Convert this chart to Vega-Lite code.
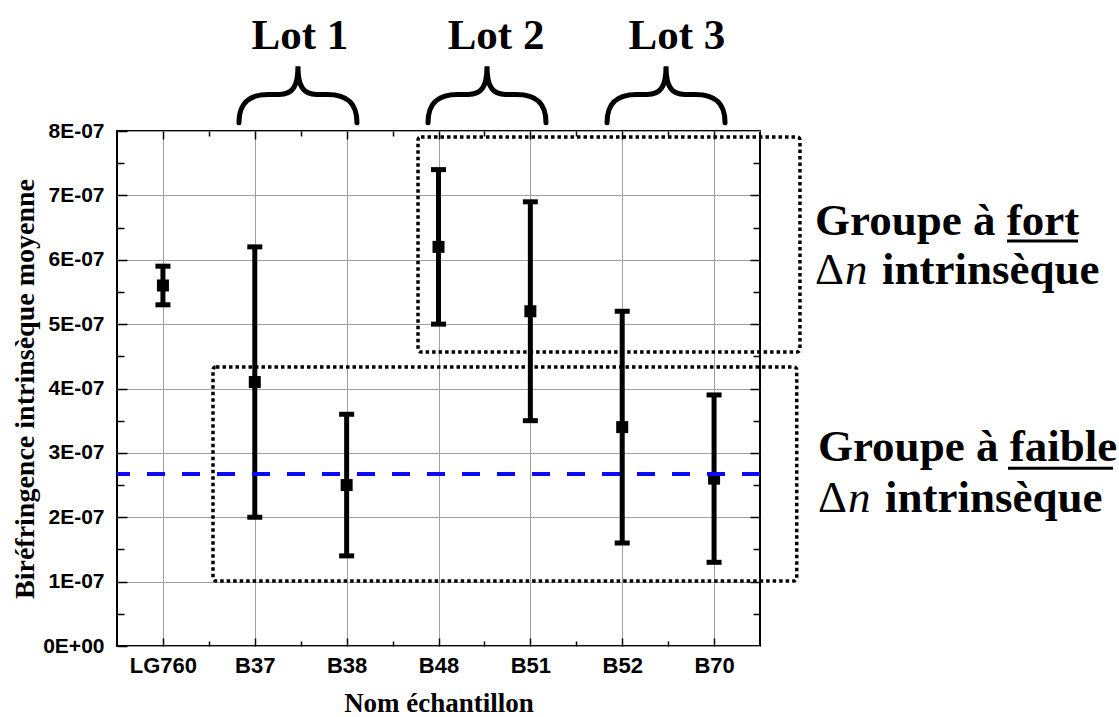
{
  "$schema": "https://vega.github.io/schema/vega-lite/v6.json",
  "width": 643,
  "height": 515,
  "autosize": {"type": "none"},
  "padding": {"left": 117, "top": 131, "right": 359, "bottom": 71},
  "background": "white",
  "config": {
    "view": {"stroke": "black", "strokeWidth": 2},
    "font": "Liberation Serif",
    "axis": {"labelColor": "black", "titleColor": "black", "tickColor": "black", "tickWidth": 1.5}
  },
  "datasets": {
    "samples": [
      {"name": "LG760", "mean": 5.6e-7, "lo": 5.3e-7, "hi": 5.9e-7},
      {"name": "B37", "mean": 4.1e-7, "lo": 2.0e-7, "hi": 6.2e-7},
      {"name": "B38", "mean": 2.5e-7, "lo": 1.4e-7, "hi": 3.6e-7},
      {"name": "B48", "mean": 6.2e-7, "lo": 5.0e-7, "hi": 7.4e-7},
      {"name": "B51", "mean": 5.2e-7, "lo": 3.5e-7, "hi": 6.9e-7},
      {"name": "B52", "mean": 3.4e-7, "lo": 1.6e-7, "hi": 5.2e-7},
      {"name": "B70", "mean": 2.6e-7, "lo": 1.3e-7, "hi": 3.9e-7}
    ],
    "reference": [{"level": 2.67e-7}],
    "boxes": [
      {"box": "fort", "left": 2.777, "right": 6.935, "top": 7.907e-7, "bottom": 4.567e-7},
      {"box": "faible", "left": 0.545, "right": 6.9, "top": 4.334e-7, "bottom": 1.01e-7}
    ],
    "lots": [
      {"lot": "Lot 1", "x": 1.492, "labelY": 9.28e-7, "braceX": 1.47, "braceY": 8.567e-7},
      {"lot": "Lot 2", "x": 3.626, "labelY": 9.28e-7, "braceX": 3.528, "braceY": 8.567e-7},
      {"lot": "Lot 3", "x": 5.596, "labelY": 9.28e-7, "braceX": 5.477, "braceY": 8.567e-7}
    ],
    "groups": [
      {"group": "fort", "title": "Groupe à fort", "delta": "Δ", "var": "n", "rest": "intrinsèque", "x": 7.099, "y1": 6.385e-7, "y2": 5.623e-7, "ux1": 9.189, "ux2": 9.962, "uy": 6.291e-7},
      {"group": "faible", "title": "Groupe à faible", "delta": "Δ", "var": "n", "rest": "intrinsèque", "x": 7.131, "y1": 2.87e-7, "y2": 2.082e-7, "ux1": 9.2, "ux2": 10.343, "uy": 2.76e-7}
    ]
  },
  "layer": [
    {
      "data": {"name": "samples"},
      "mark": {"type": "rule", "strokeWidth": 5, "color": "black"},
      "encoding": {
        "x": {
          "field": "name", "type": "nominal", "sort": null,
          "scale": {"type": "point", "padding": 0.5},
          "axis": {
            "orient": "bottom", "labelAngle": 0,
            "labelFont": "Liberation Sans", "labelFontWeight": "bold", "labelFontSize": 22,
            "labelPadding": 17, "tickSize": -8,
            "grid": true, "gridColor": "#a0a0a0", "gridWidth": 1, "domain": false,
            "title": "Nom échantillon", "titleFont": "Liberation Serif", "titleFontSize": 27,
            "titleFontWeight": "bold", "titleX": 321.5, "titleY": 65, "titleBaseline": "alphabetic", "titleAlign": "center"
          }
        },
        "y": {
          "field": "lo", "type": "quantitative",
          "scale": {"domain": [0, 8e-7], "nice": false, "zero": false},
          "axis": {
            "orient": "left",
            "values": [0, 1e-7, 2e-7, 3e-7, 4e-7, 5e-7, 6e-7, 7e-7, 8e-7],
            "labelExpr": "datum.value === 0 ? '0E+00' : round(datum.value*1e7) + 'E-07'",
            "labelFont": "Liberation Sans", "labelFontWeight": "bold", "labelFontSize": 21,
            "labelPadding": 23, "tickSize": -10,
            "grid": true, "gridColor": "#a0a0a0", "gridWidth": 1,
            "domain": false,
            "title": "Biréfringence intrinsèque moyenne", "titleFont": "Liberation Serif", "titleFontSize": 28,
            "titleFontWeight": "bold", "titleX": -84, "titleY": 257.5, "titleAngle": 270,
            "titleBaseline": "alphabetic", "titleAlign": "center"
          }
        },
        "y2": {"field": "hi"}
      }
    },
    {
      "data": {"name": "samples"},
      "mark": {"type": "tick", "orient": "horizontal", "size": 15, "thickness": 5, "color": "black", "opacity": 1},
      "encoding": {
        "x": {
          "field": "name", "type": "nominal", "sort": null, "scale": {"type": "point", "padding": 0.5},
          "axis": {"orient": "top", "labels": false, "grid": false, "domain": false, "title": null, "tickSize": -8}
        },
        "y": {
          "field": "hi", "type": "quantitative", "scale": {"domain": [0, 8e-7], "nice": false, "zero": false},
          "axis": {"orient": "right", "values": [1e-7, 2e-7, 3e-7, 4e-7, 5e-7, 6e-7, 7e-7], "labels": false, "grid": false, "domain": false, "title": null, "tickSize": -10}
        }
      }
    },
    {
      "data": {"name": "samples"},
      "mark": {"type": "tick", "orient": "horizontal", "size": 15, "thickness": 5, "color": "black", "opacity": 1},
      "encoding": {
        "x": {"field": "name", "type": "nominal", "sort": null, "scale": {"type": "point", "padding": 0.5}, "axis": null},
        "y": {"field": "lo", "type": "quantitative", "scale": {"domain": [0, 8e-7], "nice": false, "zero": false}, "axis": null}
      }
    },
    {
      "data": {"name": "samples"},
      "mark": {"type": "point", "shape": "square", "filled": true, "size": 144, "color": "black", "opacity": 1},
      "encoding": {
        "x": {"field": "name", "type": "nominal", "sort": null, "scale": {"type": "point", "padding": 0.5}, "axis": null},
        "y": {"field": "mean", "type": "quantitative", "scale": {"domain": [0, 8e-7], "nice": false, "zero": false}, "axis": null}
      }
    },
    {
      "data": {"name": "boxes"},
      "mark": {"type": "rect", "filled": false, "stroke": "black", "strokeWidth": 3.5, "strokeDash": [3.5, 3], "cornerRadius": 3},
      "encoding": {
        "x": {
          "field": "left", "type": "quantitative",
          "scale": {"domain": [-0.5, 6.5], "nice": false, "zero": false},
          "axis": {"orient": "bottom", "values": [0.5, 1.5, 2.5, 3.5, 4.5, 5.5], "labels": false, "grid": false, "domain": false, "title": null, "tickSize": -5}
        },
        "x2": {"field": "right"},
        "y": {
          "field": "top", "type": "quantitative",
          "scale": {"domain": [0, 8e-7], "nice": false, "zero": false},
          "axis": {"orient": "left", "values": [5e-8, 1.5e-7, 2.5e-7, 3.5e-7, 4.5e-7, 5.5e-7, 6.5e-7, 7.5e-7], "labels": false, "grid": false, "domain": false, "title": null, "tickSize": -7}
        },
        "y2": {"field": "bottom"}
      }
    },
    {
      "data": {"name": "reference"},
      "mark": {"type": "rule", "color": "#0a0af5", "strokeWidth": 4, "strokeDash": [18, 17]},
      "encoding": {
        "y": {
          "field": "level", "type": "quantitative", "scale": {"domain": [0, 8e-7], "nice": false, "zero": false},
          "axis": {"orient": "right", "values": [5e-8, 1.5e-7, 2.5e-7, 3.5e-7, 4.5e-7, 5.5e-7, 6.5e-7, 7.5e-7], "labels": false, "grid": false, "domain": false, "title": null, "tickSize": -7}
        }
      }
    },
    {
      "data": {"name": "lots"},
      "mark": {"type": "text", "align": "center", "baseline": "alphabetic", "font": "Liberation Serif", "fontWeight": "bold", "fontSize": 43, "color": "black"},
      "encoding": {
        "x": {
          "field": "x", "type": "quantitative",
          "scale": {"domain": [-0.5, 6.5], "nice": false, "zero": false},
          "axis": {"orient": "top", "values": [0.5, 1.5, 2.5, 3.5, 4.5, 5.5], "labels": false, "grid": false, "domain": false, "title": null, "tickSize": -5}
        },
        "y": {"field": "labelY", "type": "quantitative", "scale": {"domain": [0, 8e-7], "nice": false, "zero": false}, "axis": null},
        "text": {"field": "lot"}
      }
    },
    {
      "data": {"name": "lots"},
      "mark": {"type": "point", "shape": "M -1 0.48 C -1 0.12 -0.8 0 -0.5 0 L -0.32 0 C -0.1 0 0 -0.12 0 -0.48 C 0 -0.12 0.1 0 0.32 0 L 0.5 0 C 0.8 0 1 0.12 1 0.48", "size": 13924, "filled": false, "stroke": "black", "strokeWidth": 5, "strokeCap": "round", "opacity": 1},
      "encoding": {
        "x": {"field": "braceX", "type": "quantitative", "scale": {"domain": [-0.5, 6.5], "nice": false, "zero": false}, "axis": null},
        "y": {"field": "braceY", "type": "quantitative", "scale": {"domain": [0, 8e-7], "nice": false, "zero": false}, "axis": null}
      }
    },
    {
      "data": {"name": "groups"},
      "mark": {"type": "text", "align": "left", "baseline": "alphabetic", "font": "Liberation Serif", "fontWeight": "bold", "fontSize": 45, "color": "black"},
      "encoding": {
        "x": {"field": "x", "type": "quantitative", "scale": {"domain": [-0.5, 6.5], "nice": false, "zero": false}, "axis": null},
        "y": {"field": "y1", "type": "quantitative", "scale": {"domain": [0, 8e-7], "nice": false, "zero": false}, "axis": null},
        "text": {"field": "title"}
      }
    },
    {
      "data": {"name": "groups"},
      "mark": {"type": "text", "align": "left", "baseline": "alphabetic", "font": "Liberation Serif", "fontWeight": "normal", "fontSize": 45, "color": "black"},
      "encoding": {
        "x": {"field": "x", "type": "quantitative", "scale": {"domain": [-0.5, 6.5], "nice": false, "zero": false}, "axis": null},
        "y": {"field": "y2", "type": "quantitative", "scale": {"domain": [0, 8e-7], "nice": false, "zero": false}, "axis": null},
        "text": {"field": "delta"}
      }
    },
    {
      "data": {"name": "groups"},
      "mark": {"type": "text", "align": "left", "baseline": "alphabetic", "font": "Liberation Serif", "fontStyle": "italic", "fontWeight": "normal", "fontSize": 45, "color": "black", "dx": 30},
      "encoding": {
        "x": {"field": "x", "type": "quantitative", "scale": {"domain": [-0.5, 6.5], "nice": false, "zero": false}, "axis": null},
        "y": {"field": "y2", "type": "quantitative", "scale": {"domain": [0, 8e-7], "nice": false, "zero": false}, "axis": null},
        "text": {"field": "var"}
      }
    },
    {
      "data": {"name": "groups"},
      "mark": {"type": "text", "align": "left", "baseline": "alphabetic", "font": "Liberation Serif", "fontWeight": "bold", "fontSize": 45, "color": "black", "dx": 67},
      "encoding": {
        "x": {"field": "x", "type": "quantitative", "scale": {"domain": [-0.5, 6.5], "nice": false, "zero": false}, "axis": null},
        "y": {"field": "y2", "type": "quantitative", "scale": {"domain": [0, 8e-7], "nice": false, "zero": false}, "axis": null},
        "text": {"field": "rest"}
      }
    },
    {
      "data": {"name": "groups"},
      "mark": {"type": "rule", "color": "black", "strokeWidth": 3},
      "encoding": {
        "x": {"field": "ux1", "type": "quantitative", "scale": {"domain": [-0.5, 6.5], "nice": false, "zero": false}, "axis": null},
        "x2": {"field": "ux2"},
        "y": {"field": "uy", "type": "quantitative", "scale": {"domain": [0, 8e-7], "nice": false, "zero": false}, "axis": null}
      }
    }
  ],
  "resolve": {"scale": {"x": "independent", "y": "independent"}, "axis": {"x": "independent", "y": "independent"}}
}
